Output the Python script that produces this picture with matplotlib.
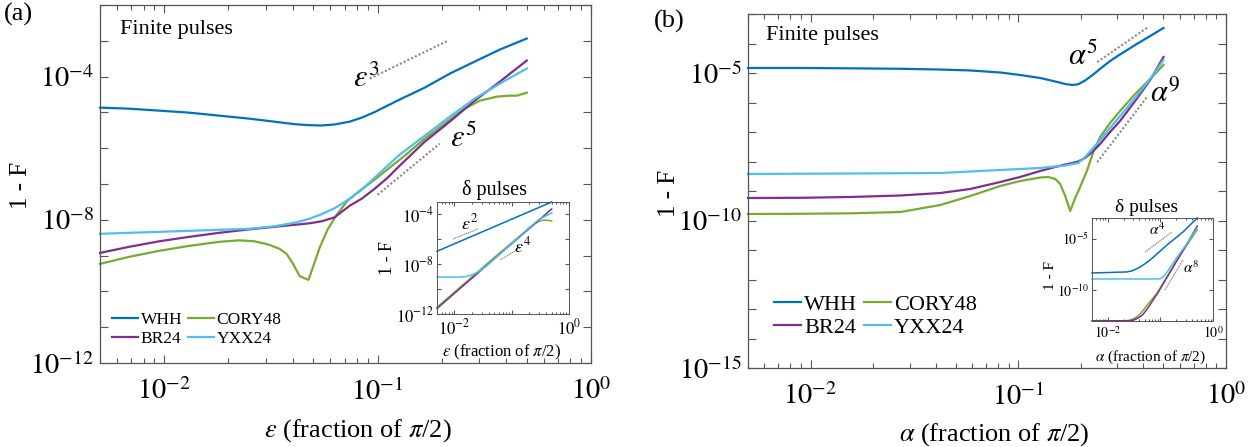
import numpy as np
import matplotlib
matplotlib.use("Agg")
import matplotlib.pyplot as plt
from matplotlib.ticker import FixedLocator, LogLocator, FuncFormatter, NullFormatter, NullLocator

plt.rcParams['font.family'] = ['Liberation Serif', 'DejaVu Serif']
plt.rcParams['mathtext.fontset'] = 'stix'

# ---------------- data: panel (a), finite pulses ----------------
a_x = [0.005, 0.00685, 0.00948, 0.01309, 0.01811, 0.02506, 0.03281, 0.04074, 0.04797, 0.05458, 0.06281,
       0.07396, 0.08414, 0.09683, 0.1114, 0.1268, 0.1663, 0.2178, 0.2851, 0.3741, 0.5]
a_whh_y = [1.36e-5, 1.27e-5, 1.12e-5, 9.84e-6, 8.11e-6, 6.68e-6, 5.51e-6, 4.69e-6, 4.40e-6, 4.31e-6, 4.60e-6,
           5.51e-6, 7.13e-6, 1.02e-5, 1.55e-5, 2.28e-5, 4.92e-5, 1.21e-4, 2.63e-4, 5.69e-4, 1.16e-3]
a_yxx_y = [4.06e-9, 4.33e-9, 4.61e-9, 4.92e-9, 5.25e-9, 5.60e-9, 6.58e-9, 8.24e-9, 1.07e-8, 1.43e-8, 2.10e-8,
           3.87e-8, 6.90e-8, 1.50e-7, 3.24e-7, 6.58e-7, 2.24e-6, 7.60e-6, 2.43e-5, 6.37e-5, 1.68e-4]
a_br_y = [1.19e-9, 1.76e-9, 2.51e-9, 3.34e-9, 4.33e-9, 5.42e-9, 6.37e-9, 7.24e-9, 7.98e-9, 9.08e-9, 1.17e-8,
          2.47e-8, 3.87e-8, 7.36e-8, 1.50e-7, 3.24e-7, 1.52e-6, 5.51e-6, 2.13e-5, 7.24e-5, 2.81e-4]

a_cory_x = [0.005, 0.00685, 0.00948, 0.01309, 0.01811, 0.02249, 0.02649, 0.03112, 0.03467, 0.03741, 0.03991,
            0.04305, 0.04498, 0.04742, 0.05058, 0.05346, 0.05821, 0.06427, 0.07228, 0.08232, 0.09683, 0.1138,
            0.1340, 0.1663, 0.2178, 0.2558, 0.3013, 0.3625, 0.4169, 0.4498, 0.5]
a_cory_y = [5.87e-10, 9.23e-10, 1.36e-9, 1.87e-9, 2.43e-9, 2.67e-9, 2.51e-9, 2.00e-9, 1.55e-9, 1.12e-9, 6.27e-10,
            2.71e-10, 2.39e-10, 2.10e-10, 6.27e-10, 1.65e-9, 5.25e-9, 1.38e-8, 3.40e-8, 6.47e-8, 1.32e-7, 2.85e-7,
            6.17e-7, 1.85e-6, 6.27e-6, 1.27e-5, 2.13e-5, 2.76e-5, 2.94e-5, 2.94e-5, 3.56e-5]

# guide lines (a)
a_g3_x = [0.092, 0.213]
a_g3_y = [8.8e-5, 1.0e-3]
a_g5_x = [0.1, 0.1955]
a_g5_y = [5.0e-8, 1.34e-6]

# ---------------- data: panel (a) inset, delta pulses ----------------
ad_whh_x = [0.005, 0.05, 0.5]
ad_whh_y = [1.1e-7, 1.05e-5, 1.0e-3]
ad_yxx_x = [0.005, 0.0125, 0.0155, 0.019, 0.0235, 0.029, 0.036, 0.045, 0.1, 0.2, 0.3, 0.5]
ad_yxx_y = [9.3e-10, 9.3e-10, 1.0e-9, 1.25e-9, 1.9e-9, 3.3e-9, 6.9e-9, 1.7e-8, 4.7e-7, 8.3e-6, 4.0e-5, 1.32e-4]
ad_br_x = [0.005, 0.05, 0.5]
ad_br_y = [2.75e-12, 2.75e-8, 2.75e-4]
ad_cory_x = [0.005, 0.05, 0.2, 0.25, 0.29, 0.35, 0.42, 0.5]
ad_cory_y = [3.5e-12, 3.5e-8, 7.9e-6, 1.7e-5, 2.6e-5, 3.5e-5, 3.4e-5, 2.95e-5]
ad_g2_x = [0.0095, 0.0259]
ad_g2_y = [1.07e-6, 6.8e-6]
ad_g4_x = [0.063, 0.14]
ad_g4_y = [2.2e-8, 2.0e-7]

# ---------------- data: panel (b), finite pulses ----------------
b_whh_x = [0.005, 0.00895, 0.01556, 0.0271, 0.04217, 0.05875, 0.08195, 0.1022, 0.1276, 0.1507, 0.1683,
           0.1820, 0.1941, 0.2099, 0.2297, 0.2477, 0.2767, 0.3090, 0.3651, 0.4315, 0.5]
b_whh_y = [1.48e-5, 1.48e-5, 1.44e-5, 1.39e-5, 1.31e-5, 1.22e-5, 1.04e-5, 8.55e-6, 6.77e-6, 5.15e-6, 4.24e-6,
           3.92e-6, 4.14e-6, 5.57e-6, 8.89e-6, 1.38e-5, 2.55e-5, 4.24e-5, 8.89e-5, 1.79e-4, 3.35e-4]

b_yxx_x = [0.005, 0.01556, 0.04217, 0.08195, 0.1276, 0.1683, 0.1941, 0.2099, 0.2297, 0.2477, 0.2767, 0.3090,
           0.3651, 0.4315, 0.5]
b_yxx_y = [3.77e-9, 3.92e-9, 4.07e-9, 5.15e-9, 6.03e-9, 7.32e-9, 8.89e-9, 1.42e-8, 2.87e-8, 5.36e-8, 1.37e-7,
           3.48e-7, 1.42e-6, 6.27e-6, 2.76e-5]

b_br_x = [0.005, 0.00895, 0.01556, 0.0271, 0.04217, 0.05875, 0.08195, 0.1022, 0.1276, 0.1507, 0.1683,
          0.1820, 0.1941, 0.2099, 0.2297, 0.2477, 0.2767, 0.3090, 0.3651, 0.4315, 0.5]
b_br_y = [5.79e-10, 5.88e-10, 6.27e-10, 7.04e-10, 8.55e-10, 1.17e-9, 2.02e-9, 2.99e-9, 4.77e-9, 6.52e-9, 7.91e-9,
          8.89e-9, 1.0e-8, 1.32e-8, 2.27e-8, 3.92e-8, 1.0e-7, 2.36e-7, 1.12e-6, 5.79e-6, 3.48e-5]

b_cory_x = [0.005, 0.00895, 0.01556, 0.0271, 0.04217, 0.05875, 0.08195, 0.1022, 0.1276, 0.1393, 0.1507, 0.1592,
            0.1683, 0.1778, 0.1879, 0.1986, 0.2148, 0.2297, 0.2477, 0.2767, 0.3090, 0.3651, 0.4315, 0.5]
b_cory_y = [1.66e-10, 1.69e-10, 1.75e-10, 1.94e-10, 3.35e-10, 6.78e-10, 1.48e-9, 2.18e-9, 2.87e-9, 2.99e-9,
            2.55e-9, 1.73e-9, 6.78e-10, 2.10e-10, 5.79e-10, 1.37e-9, 5.15e-9, 2.10e-8, 6.78e-8, 2.02e-7, 5.15e-7,
            1.94e-6, 6.27e-6, 1.87e-5]

b_g5_x = [0.24, 0.417]
b_g5_y = [2.35e-5, 3.4e-4]
b_g9_x = [0.24, 0.417]
b_g9_y = [9.5e-9, 1.55e-6]

# ---------------- data: panel (b) inset, delta pulses ----------------
bd_whh_x = [0.005, 0.0232, 0.03, 0.0409, 0.05, 0.0635, 0.09, 0.1337, 0.269, 0.5]
bd_whh_y = [4.6e-9, 5.8e-9, 7.8e-9, 1.74e-8, 3.4e-8, 8.3e-8, 4.0e-7, 2.4e-6, 4.4e-5, 1.0e-3]
bd_yxx_x = [0.005, 0.085, 0.1, 0.11, 0.12, 0.135, 0.16, 0.2, 0.3, 0.5]
bd_yxx_y = [1.2e-9, 1.2e-9, 1.3e-9, 1.7e-9, 2.7e-9, 6.0e-9, 2.2e-8, 1.2e-7, 2.1e-6, 1.07e-4]
bd_br_x = [0.005, 0.025, 0.03, 0.035, 0.041, 0.047, 0.06, 0.0863, 0.13, 0.2, 0.3, 0.5]
bd_br_y = [1.05e-13, 1.05e-13, 1.2e-13, 1.6e-13, 2.6e-13, 4.5e-13, 2.5e-12, 4.0e-11, 1.4e-9, 5.6e-8, 1.78e-6,
           1.66e-4]
bd_cory_x = [0.005, 0.022, 0.027, 0.032, 0.038, 0.044, 0.057, 0.0863, 0.13, 0.2, 0.3, 0.5]
bd_cory_y = [1.05e-13, 1.05e-13, 1.25e-13, 1.8e-13, 3.3e-13, 7.0e-13, 4.0e-12, 5.0e-11, 1.6e-9, 6.0e-8, 1.5e-6,
             7.0e-5]
bd_g4_x = [0.051, 0.166]
bd_g4_y = [5.0e-7, 4.4e-5]
bd_g8_x = [0.122, 0.269]
bd_g8_y = [1.0e-10, 8.3e-8]

labels = ['WHH', 'BR24', 'CORY48', 'YXX24']
colors = {'WHH': '#0072BD', 'BR24': '#7E2F8E', 'CORY48': '#77AC30', 'YXX24': '#4DBEEE'}

W, H = 1258, 447
fig = plt.figure(figsize=(W / 100, H / 100), dpi=100)


def rect(l, t, r, b):
    return [l / W, 1 - b / H, (r - l) / W, (b - t) / H]


def fpos(x, y):
    return x / W, 1 - y / H


def fmt(labeled):
    def f(v, pos):
        e = int(round(np.log10(v)))
        return r'$10^{%d}$' % e if e in labeled else ''
    return FuncFormatter(f)


def style(ax, ylim, ytick_exps, ylabeled, xlabeled, fs, tl, xpad, ypad, lw=0.9):
    ax.set_xscale('log')
    ax.set_yscale('log')
    ax.set_xlim(0.005, 1)
    ax.set_ylim(*ylim)
    ax.xaxis.set_major_locator(FixedLocator([1e-2, 1e-1, 1e0]))
    ax.xaxis.set_minor_locator(LogLocator(base=10, subs=np.arange(2, 10), numticks=20))
    ax.xaxis.set_major_formatter(fmt(xlabeled))
    ax.xaxis.set_minor_formatter(NullFormatter())
    ax.yaxis.set_major_locator(FixedLocator([10.0 ** e for e in ytick_exps]))
    ax.yaxis.set_minor_locator(NullLocator())
    ax.yaxis.set_major_formatter(fmt(ylabeled))
    ax.tick_params(which='both', direction='in', top=True, right=True,
                   labelsize=fs, colors='#555555', labelcolor='black', width=0.8)
    ax.tick_params(which='major', length=tl)
    ax.tick_params(which='minor', length=tl * 0.55)
    ax.tick_params(axis='x', pad=xpad)
    ax.tick_params(axis='y', pad=ypad)
    for s in ax.spines.values():
        s.set_color('#555555')
        s.set_linewidth(lw)


def draw(ax, data, lw):
    hs = {}
    for name in ['WHH', 'CORY48', 'BR24', 'YXX24']:
        x, y = data[name]
        hs[name], = ax.plot(x, y, color=colors[name], lw=lw, label=name, clip_on=False,
                            solid_joinstyle='round')
    return hs


# ---------------- panel (a) ----------------
axa = fig.add_axes(rect(100, 5, 591, 363))
style(axa, (1e-12, 1e-2), range(-12, -1), [-12, -8, -4], [-2, -1, 0], 20.5, 6, 11, 4)
ha = draw(axa, {'WHH': (a_x, a_whh_y), 'BR24': (a_x, a_br_y),
                'CORY48': (a_cory_x, a_cory_y), 'YXX24': (a_x, a_yxx_y)}, 1.6)
axa.plot(a_g3_x, a_g3_y, color='#888888', lw=1.5, ls=(0, (1, 1)))
axa.plot(a_g5_x, a_g5_y, color='#888888', lw=1.5, ls=(0, (1, 1)))
axa.legend([ha[k] for k in labels], labels, ncol=2, loc='lower left',
           bbox_to_anchor=(0.025, 0.045), frameon=False, fontsize=12.5,
           handlelength=1.5, handletextpad=0.15, columnspacing=0.3,
           labelspacing=0.15, borderaxespad=0, borderpad=0)

# inset (a)
axai = fig.add_axes(rect(437, 202, 569, 314))
style(axai, (1e-12, 1e-3), range(-12, -2, 2), [-12, -8, -4], [-2, 0], 12, 3, 3, 2, lw=0.7)
draw(axai, {'WHH': (ad_whh_x, ad_whh_y), 'BR24': (ad_br_x, ad_br_y),
            'CORY48': (ad_cory_x, ad_cory_y), 'YXX24': (ad_yxx_x, ad_yxx_y)}, 1.1)
axai.plot(ad_g2_x, ad_g2_y, color='#888888', lw=0.9, ls=(0, (1, 0.6)))
axai.plot(ad_g4_x, ad_g4_y, color='#888888', lw=0.9, ls=(0, (1, 0.6)))

# ---------------- panel (b) ----------------
axb = fig.add_axes(rect(748, 14, 1226, 368))
style(axb, (1e-15, 1e-3), range(-15, -2), [-15, -10, -5], [-2, -1, 0], 20.5, 6, 11, 4)
hb = draw(axb, {'WHH': (b_whh_x, b_whh_y), 'BR24': (b_br_x, b_br_y),
                'CORY48': (b_cory_x, b_cory_y), 'YXX24': (b_yxx_x, b_yxx_y)}, 1.6)
axb.plot(b_g5_x, b_g5_y, color='#888888', lw=1.5, ls=(0, (1, 1)))
axb.plot(b_g9_x, b_g9_y, color='#888888', lw=1.5, ls=(0, (1, 1)))
axb.legend([hb[k] for k in labels], labels, ncol=2, loc='lower left',
           bbox_to_anchor=(0.055, 0.085), frameon=False, fontsize=16,
           handlelength=1.2, handletextpad=0.15, columnspacing=0.3,
           labelspacing=0.1, borderaxespad=0, borderpad=0)

# inset (b)
axbi = fig.add_axes(rect(1092, 218, 1213, 321))
style(axbi, (1e-13, 1e-3), [-10, -5], [-10, -5], [-2, 0], 10, 3, 3, 2, lw=0.7)
draw(axbi, {'WHH': (bd_whh_x, bd_whh_y), 'BR24': (bd_br_x, bd_br_y),
            'CORY48': (bd_cory_x, bd_cory_y), 'YXX24': (bd_yxx_x, bd_yxx_y)}, 1.1)
axbi.plot(bd_g4_x, bd_g4_y, color='#888888', lw=0.9, ls=(0, (1, 0.6)))
axbi.plot(bd_g8_x, bd_g8_y, color='#888888', lw=0.9, ls=(0, (1, 0.6)))

# ---------------- texts ----------------
def t(x, y, s, fs, **kw):
    fig.text(*fpos(x, y), s, fontsize=fs, **kw)

t(4, 3, '(a)', 19, ha='left', va='top')
t(654, 10, '(b)', 19, ha='left', va='top')
t(120, 20, 'Finite pulses', 16, ha='left', va='top')
t(766, 26, 'Finite pulses', 16, ha='left', va='top')
t(21, 185, '1 - F', 18, ha='center', va='center', rotation=90)
t(669, 193, '1 - F', 18, ha='center', va='center', rotation=90)
t(358, 431, r'$\epsilon$ (fraction of $\pi$/2)', 19, ha='center', va='center')
t(994, 435, r'$\alpha$ (fraction of $\pi$/2)', 19, ha='center', va='center')

t(366, 79, r'$\epsilon^{3}$', 22, ha='center', va='center')
t(463, 139, r'$\epsilon^{5}$', 22, ha='center', va='center')
t(1083, 57, r'$\alpha^{5}$', 22, ha='center', va='center')
t(1165, 94, r'$\alpha^{9}$', 22, ha='center', va='center')

t(495, 190, 'δ pulses', 14.5, ha='center', va='center')
t(1147, 208, 'δ pulses', 14, ha='center', va='center')
t(388, 258, '1 - F', 13, ha='center', va='center', rotation=90)
t(1050, 275, '1 - F', 11, ha='center', va='center', rotation=90)
t(502, 352, r'$\epsilon$ (fraction of $\pi$/2)', 12, ha='center', va='center')
t(1151, 357, r'$\alpha$ (fraction of $\pi$/2)', 11, ha='center', va='center')
t(470, 223, r'$\epsilon^{2}$', 13, ha='center', va='center')
t(523, 246, r'$\epsilon^{4}$', 13, ha='center', va='center')
t(1157, 230, r'$\alpha^{4}$', 11, ha='center', va='center')
t(1191, 268, r'$\alpha^{8}$', 11, ha='center', va='center')

fig.savefig('out.png', dpi=100)
